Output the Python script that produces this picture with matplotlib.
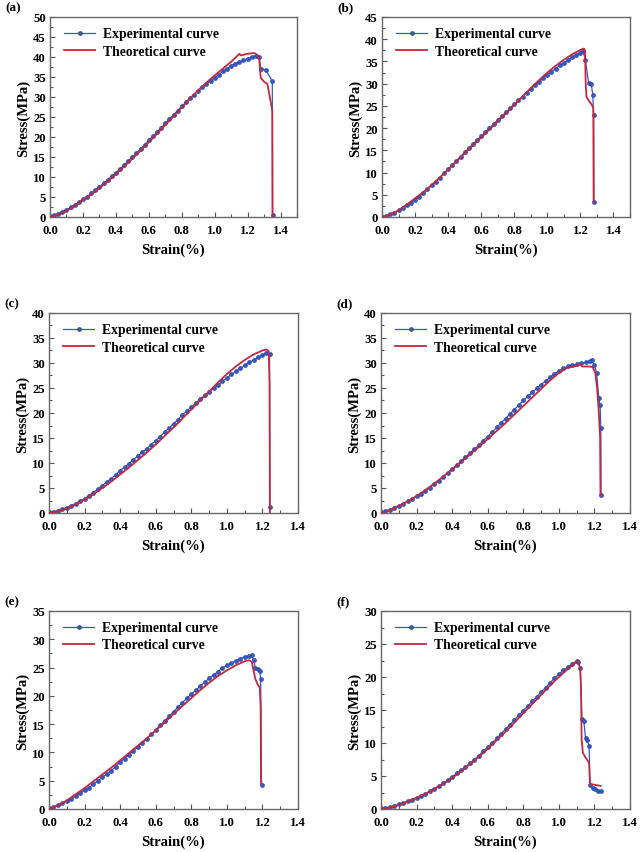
import matplotlib
matplotlib.use("Agg")
from matplotlib import pyplot as plt
from matplotlib.ticker import MultipleLocator

plt.rcParams['font.family'] = ['Liberation Serif', 'DejaVu Serif']
plt.rcParams['font.weight'] = 'bold'
plt.rcParams['axes.labelweight'] = 'bold'

EXP_COLOR = '#3558c4'
THEO_COLOR = '#c3283f'

# common strain grid of the experimental records (%)
grid_strain = [0.0, 0.025, 0.05, 0.075, 0.1, 0.125, 0.15, 0.175, 0.2, 0.225,
               0.25, 0.275, 0.3, 0.325, 0.35, 0.375, 0.4, 0.425, 0.45, 0.475,
               0.5, 0.525, 0.55, 0.575, 0.6, 0.625, 0.65, 0.675, 0.7, 0.725,
               0.75, 0.775, 0.8, 0.825, 0.85, 0.875, 0.9, 0.925, 0.95, 0.975,
               1.0, 1.025, 1.05, 1.075, 1.1, 1.125, 1.15, 1.175, 1.2, 1.225, 1.25]

# (a)
a_exp_stress = [0.2, 0.4, 0.8, 1.3, 1.8, 2.4, 3.0, 3.7, 4.4, 5.1, 5.9, 6.7, 7.6, 8.4,
                9.3, 10.2, 11.1, 12.0, 13.0, 14.0, 15.0, 16.0, 17.1, 18.1, 19.2, 20.2,
                21.3, 22.3, 23.4, 24.5, 25.6, 26.6, 27.7, 28.7, 29.7, 30.6, 31.5, 32.4,
                33.2, 34.0, 34.8, 35.6, 36.4, 37.1, 37.8, 38.3, 38.8, 39.2, 39.6, 40.0, 40.3]
a_exp_tail_strain = [1.27, 1.28, 1.31, 1.35, 1.352]
a_exp_tail_stress = [40.1, 37.0, 36.8, 34.0, 0.5]
a_theo_strain = [0.0, 0.05, 0.1, 0.15, 0.2, 0.25, 0.3, 0.35, 0.4, 0.45, 0.5, 0.55, 0.6,
                 0.65, 0.7, 0.75, 0.8, 0.85, 0.9, 0.95, 1.0, 1.05, 1.1, 1.13, 1.15, 1.16,
                 1.2, 1.24, 1.26, 1.27, 1.275, 1.28, 1.3, 1.32, 1.335, 1.35, 1.351]
a_theo_stress = [0.0, 0.5, 1.5, 2.8, 4.2, 5.6, 7.2, 8.9, 10.7, 12.6, 14.6, 16.6, 18.7,
                 20.8, 23.0, 25.2, 27.4, 29.6, 31.7, 33.6, 35.4, 37.1, 38.8, 40.0, 40.8, 40.4,
                 40.8, 41.0, 40.5, 40.0, 37.0, 34.8, 33.8, 33.3, 30.0, 26.5, 0.0]

# (b)
b_exp_stress = [0.1, 0.3, 0.6, 1.0, 1.5, 2.0, 2.6, 3.2, 3.9, 4.6, 5.4, 6.2, 7.1, 7.9,
                8.8, 9.8, 10.8, 11.7, 12.7, 13.6, 14.6, 15.5, 16.4, 17.3, 18.2, 19.1,
                20.0, 20.9, 21.8, 22.7, 23.6, 24.5, 25.4, 26.3, 27.1, 28.0, 28.8, 29.6,
                30.4, 31.2, 32.0, 32.7, 33.4, 34.1, 34.7, 35.3, 35.9, 36.5, 37.0]
b_exp_tail_strain = [1.215, 1.23, 1.25, 1.265, 1.275, 1.28, 1.282]
b_exp_tail_stress = [37.4, 35.4, 30.1, 30.0, 27.5, 23.0, 3.4]
b_theo_strain = [0.0, 0.05, 0.1, 0.15, 0.2, 0.25, 0.3, 0.35, 0.4, 0.45, 0.5, 0.55, 0.6,
                 0.65, 0.7, 0.75, 0.8, 0.85, 0.9, 0.95, 1.0, 1.05, 1.1, 1.15, 1.2, 1.22,
                 1.228, 1.232, 1.237, 1.25, 1.27, 1.278, 1.28]
b_theo_stress = [0.0, 0.5, 1.5, 2.8, 4.2, 5.6, 7.2, 8.9, 10.7, 12.5, 14.3, 16.1, 17.9,
                 19.7, 21.5, 23.3, 25.2, 27.1, 29.0, 30.8, 32.5, 34.0, 35.4, 36.6, 37.6, 37.9,
                 37.5, 30.0, 27.0, 26.2, 25.2, 24.5, 3.5]

# (c)
c_exp_stress = [0.2, 0.3, 0.5, 0.8, 1.1, 1.5, 1.9, 2.4, 2.9, 3.5, 4.1, 4.8, 5.5, 6.2,
                6.9, 7.7, 8.5, 9.2, 9.9, 10.7, 11.4, 12.2, 12.9, 13.7, 14.5, 15.3,
                16.2, 17.0, 17.9, 18.7, 19.6, 20.4, 21.2, 22.0, 22.8, 23.5, 24.2, 24.9,
                25.6, 26.3, 27.0, 27.7, 28.3, 28.9, 29.5, 30.1, 30.6, 31.1, 31.6]
c_exp_tail_strain = [1.22, 1.24, 1.242]
c_exp_tail_stress = [32.0, 31.7, 1.3]
c_theo_strain = [0.0, 0.05, 0.1, 0.15, 0.2, 0.25, 0.3, 0.35, 0.4, 0.45, 0.5, 0.55, 0.6,
                 0.65, 0.7, 0.75, 0.8, 0.85, 0.9, 0.95, 1.0, 1.05, 1.1, 1.15, 1.2, 1.22,
                 1.235, 1.24, 1.242]
c_theo_stress = [0.0, 0.3, 0.9, 1.7, 2.7, 3.8, 5.0, 6.3, 7.7, 9.1, 10.6, 12.1, 13.7,
                 15.4, 17.1, 18.9, 20.7, 22.5, 24.3, 26.1, 27.8, 29.3, 30.6, 31.7, 32.5, 32.7,
                 32.4, 26.0, 0.0]

# (d)
d_exp_stress = [0.2, 0.4, 0.7, 1.1, 1.5, 1.9, 2.4, 2.9, 3.4, 3.9, 4.5, 5.1, 5.8, 6.5,
                7.2, 8.0, 8.8, 9.6, 10.4, 11.2, 12.0, 12.8, 13.6, 14.5, 15.3, 16.2,
                17.1, 18.0, 18.9, 19.8, 20.7, 21.6, 22.5, 23.3, 24.1, 24.9, 25.7, 26.4,
                27.1, 27.8, 28.4, 28.9, 29.3, 29.5, 29.7, 29.9, 30.1, 30.4]
d_exp_tail_strain = [1.185, 1.2, 1.212, 1.225, 1.232, 1.236, 1.237]
d_exp_tail_stress = [30.5, 29.6, 28.0, 23.0, 21.5, 17.0, 3.7]
d_theo_strain = [0.0, 0.05, 0.1, 0.15, 0.2, 0.25, 0.3, 0.35, 0.4, 0.45, 0.5, 0.55, 0.6,
                 0.65, 0.7, 0.75, 0.8, 0.85, 0.9, 0.95, 1.0, 1.05, 1.08, 1.1, 1.12, 1.13,
                 1.17, 1.19, 1.205, 1.215, 1.225, 1.232, 1.234]
d_theo_stress = [0.0, 0.5, 1.4, 2.3, 3.4, 4.6, 5.9, 7.3, 8.7, 10.2, 11.7, 13.2, 14.8,
                 16.4, 18.0, 19.7, 21.4, 23.1, 24.8, 26.5, 28.0, 29.1, 29.3, 29.4, 29.9, 29.3,
                 29.3, 29.2, 28.0, 25.0, 20.0, 15.0, 3.5]

# (e)
e_exp_stress = [0.1, 0.4, 0.7, 1.0, 1.4, 1.8, 2.3, 2.8, 3.3, 3.8, 4.4, 5.0, 5.6, 6.2,
                6.8, 7.5, 8.3, 8.9, 9.6, 10.3, 11.0, 11.7, 12.4, 13.2, 14.0, 14.8,
                15.6, 16.4, 17.2, 18.0, 18.8, 19.6, 20.3, 21.0, 21.7, 22.4, 23.1, 23.7,
                24.3, 24.9, 25.4, 25.8, 26.2, 26.6, 26.9, 27.1]
e_exp_tail_strain = [1.14, 1.15, 1.16, 1.175, 1.185, 1.19, 1.195]
e_exp_tail_stress = [27.2, 26.3, 25.0, 24.8, 24.4, 23.0, 4.2]
e_theo_strain = [0.0, 0.05, 0.1, 0.15, 0.2, 0.25, 0.3, 0.35, 0.4, 0.45, 0.5, 0.55, 0.6,
                 0.65, 0.7, 0.75, 0.8, 0.85, 0.9, 0.95, 1.0, 1.05, 1.1, 1.125, 1.14, 1.15,
                 1.16, 1.175, 1.185, 1.19, 1.192]
e_theo_stress = [0.0, 0.6, 1.5, 2.6, 3.7, 4.9, 6.1, 7.3, 8.6, 9.9, 11.2, 12.5, 13.9,
                 15.3, 16.8, 18.2, 19.6, 21.0, 22.3, 23.5, 24.5, 25.4, 26.1, 26.3, 26.0, 24.5,
                 23.0, 21.9, 21.5, 18.0, 4.5]

# (f)
f_exp_stress = [0.1, 0.2, 0.3, 0.5, 0.7, 0.9, 1.2, 1.4, 1.7, 2.0, 2.3, 2.7, 3.1, 3.5,
                3.9, 4.4, 4.9, 5.4, 5.9, 6.4, 6.9, 7.5, 8.1, 8.8, 9.4, 10.0,
                10.7, 11.4, 12.1, 12.8, 13.5, 14.2, 14.9, 15.6, 16.3, 17.0, 17.7, 18.4,
                19.1, 19.8, 20.4, 21.0, 21.5, 22.0, 22.4]
f_exp_tail_strain = [1.11, 1.12, 1.13, 1.14, 1.15, 1.16, 1.17, 1.175, 1.19, 1.205, 1.22, 1.235]
f_exp_tail_stress = [22.3, 21.3, 13.6, 13.4, 10.8, 10.4, 9.6, 3.6, 3.2, 3.0, 2.8, 2.7]
f_theo_strain = [0.0, 0.05, 0.1, 0.15, 0.2, 0.25, 0.3, 0.35, 0.4, 0.45, 0.5, 0.55, 0.6,
                 0.65, 0.7, 0.75, 0.8, 0.85, 0.9, 0.95, 1.0, 1.05, 1.1, 1.105, 1.12, 1.125,
                 1.128, 1.135, 1.15, 1.17, 1.175, 1.235]
f_theo_stress = [0.0, 0.2, 0.6, 1.1, 1.7, 2.3, 3.0, 3.8, 4.7, 5.7, 6.8, 7.9, 9.1,
                 10.4, 11.7, 13.1, 14.5, 15.9, 17.3, 18.7, 20.0, 21.2, 22.3, 22.4, 21.4, 18.0,
                 10.5, 8.5, 7.8, 7.0, 3.8, 3.5]

panel_labels = ['(a)', '(b)', '(c)', '(d)', '(e)', '(f)']
y_max = [50, 45, 40, 40, 35, 30]
x_max = [1.5, 1.5, 1.4, 1.4, 1.4, 1.4]

W, H = 640, 853
# axes boxes in pixels: left, top, right, bottom
boxes = [(50, 18, 297, 218), (382, 18, 630, 218),
         (49, 314, 298, 514), (381, 314, 630, 514),
         (49, 612, 298, 810), (381, 612, 630, 810)]


def exp_curve(main, tail_x, tail_y):
    return grid_strain[:len(main)] + tail_x, main + tail_y


def draw_panel(fig, i, exp, theo):
    l, t, r, b = boxes[i]
    ax = fig.add_axes([l / W, 1 - b / H, (r - l) / W, (b - t) / H])
    ax.plot(exp[0], exp[1], color=EXP_COLOR, lw=0.9, marker='o', ms=2.8,
            mec='#2a47a8', mfc=EXP_COLOR, mew=0.5, label='Experimental curve', zorder=2)
    ax.plot(theo[0], theo[1], color=THEO_COLOR, lw=1.3, label='Theoretical curve', zorder=3)

    ax.set_xlim(0, x_max[i])
    ax.set_ylim(0, y_max[i])
    ax.set_xticks([0.0, 0.2, 0.4, 0.6, 0.8, 1.0, 1.2, 1.4])
    ax.xaxis.set_minor_locator(MultipleLocator(0.1))
    ax.yaxis.set_major_locator(MultipleLocator(5))
    ax.yaxis.set_minor_locator(MultipleLocator(2.5))
    ax.tick_params(which='both', direction='in', top=False, right=False,
                   labelsize=9.2, color='#555555', width=0.8)
    ax.tick_params(which='major', length=3.5)
    ax.tick_params(which='minor', length=2)
    ax.tick_params(axis='x', which='major', pad=5)
    ax.tick_params(axis='y', which='major', pad=3)
    for s in ax.spines.values():
        s.set_color('#666666')
        s.set_linewidth(1.0)

    ax.set_xlabel('Strain(%)', fontsize=10.5, fontweight='bold', labelpad=5)
    ax.set_ylabel('Stress(MPa)', fontsize=10.5, fontweight='bold', labelpad=2)
    leg = ax.legend(loc='upper left', bbox_to_anchor=(0.035, 0.975), frameon=False,
                    fontsize=9.8, handlelength=2.3, handletextpad=0.55,
                    labelspacing=0.3, borderaxespad=0, numpoints=1)
    for txt in leg.get_texts():
        txt.set_fontweight('bold')

    fig.text((l - 45) / W, 1 - (t - 10) / H, panel_labels[i], fontsize=9.5,
             fontweight='bold', ha='left', va='center')


def main():
    fig = plt.figure(figsize=(6.4, 8.53), dpi=100)
    exps = [exp_curve(a_exp_stress, a_exp_tail_strain, a_exp_tail_stress),
            exp_curve(b_exp_stress, b_exp_tail_strain, b_exp_tail_stress),
            exp_curve(c_exp_stress, c_exp_tail_strain, c_exp_tail_stress),
            exp_curve(d_exp_stress, d_exp_tail_strain, d_exp_tail_stress),
            exp_curve(e_exp_stress, e_exp_tail_strain, e_exp_tail_stress),
            exp_curve(f_exp_stress, f_exp_tail_strain, f_exp_tail_stress)]
    theos = [(a_theo_strain, a_theo_stress), (b_theo_strain, b_theo_stress),
             (c_theo_strain, c_theo_stress), (d_theo_strain, d_theo_stress),
             (e_theo_strain, e_theo_stress), (f_theo_strain, f_theo_stress)]
    for i in range(6):
        draw_panel(fig, i, exps[i], theos[i])
    fig.savefig('out.png', dpi=100)


if __name__ == "__main__":
    main()
